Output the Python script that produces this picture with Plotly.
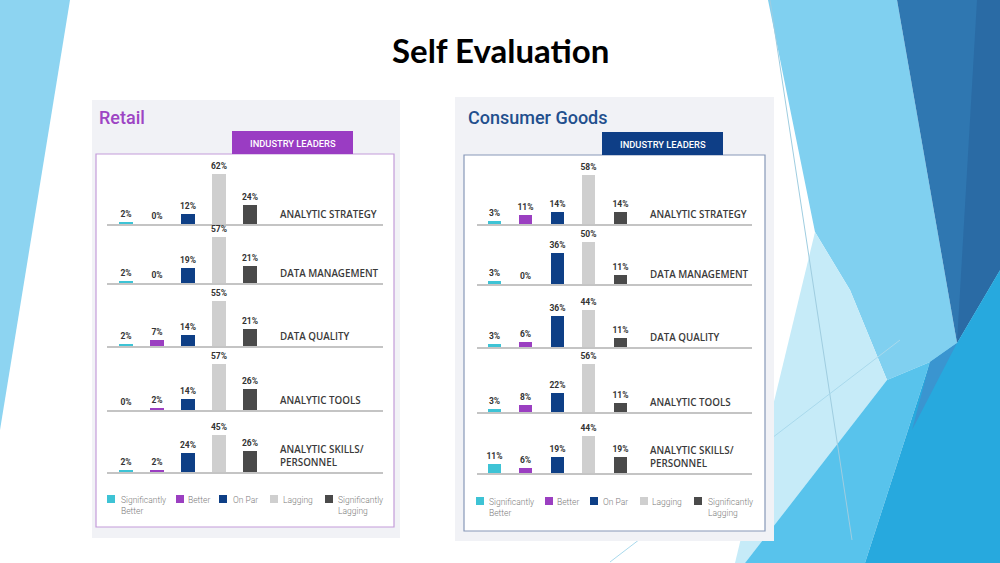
import plotly.graph_objects as go

# ---------------- data ----------------
series = ["Significantly Better", "Better", "On Par", "Lagging", "Significantly Lagging"]
legend_labels = ["Significantly<br>Better", "Better", "On Par", "Lagging", "Significantly<br>Lagging"]
categories = ["ANALYTIC STRATEGY", "DATA MANAGEMENT", "DATA QUALITY", "ANALYTIC TOOLS",
              "ANALYTIC SKILLS/<br>PERSONNEL"]

retail_sig_better = [2, 2, 2, 0, 2]
retail_better = [0, 0, 7, 2, 2]
retail_on_par = [12, 19, 14, 14, 24]
retail_lagging = [62, 57, 55, 57, 45]
retail_sig_lagging = [24, 21, 21, 26, 26]

cg_sig_better = [3, 3, 3, 3, 11]
cg_better = [11, 0, 6, 8, 6]
cg_on_par = [14, 36, 36, 22, 19]
cg_lagging = [58, 50, 44, 56, 44]
cg_sig_lagging = [14, 11, 11, 11, 19]

series_colors = ["#3ec3d5", "#9b3fc1", "#0e3f86", "#cfcfcf", "#4a4a4a"]

# ---------------- layout helpers ----------------
W, H = 1000, 563
def px(x):
    return x / W
def py(y):
    return 1 - y / H

panels = [
    dict(title="Retail", title_color="#9d45c4", tab_color="#9a3cc3", border="#c49cd9",
         values=[retail_sig_better, retail_better, retail_on_par, retail_lagging, retail_sig_lagging],
         outer=(92, 100, 400, 538), inner=(96, 154, 394, 527), tab=(232, 131, 353, 154),
         title_pos=(97, 117), bar0=126, step=31, bar_w=14, line=(107, 383), label_x=278,
         baselines=[224, 283, 346, 410, 472], yrange=69,
         leg_sq=[107, 176, 219, 270, 325], leg_tx=[119, 186, 231, 281, 336], leg_y=499),
    dict(title="Consumer Goods", title_color="#224f8d", tab_color="#0e3e86", border="#8798b8",
         values=[cg_sig_better, cg_better, cg_on_par, cg_lagging, cg_sig_lagging],
         outer=(455, 97, 774, 541), inner=(464, 155, 765, 531), tab=(602, 132, 723, 155),
         title_pos=(466, 117), bar0=494, step=31.6, bar_w=13, line=(477, 752), label_x=648,
         baselines=[224, 284, 347, 412, 473], yrange=66,
         leg_sq=[476, 545, 590, 640, 694], leg_tx=[487, 555, 601, 650, 706], leg_y=501),
]

fig = go.Figure()
shapes = []
annotations = []

# ---------------- slide background decoration ----------------
def poly(pts, color, opacity=1.0):
    path = "M " + " L ".join(f"{px(x):.4f},{py(y):.4f}" for x, y in pts) + " Z"
    return dict(type="path", path=path, xref="paper", yref="paper", fillcolor=color,
                line=dict(width=0), layer="below", opacity=opacity)

shapes += [
    poly([(0, 0), (70, 0), (0, 430)], "#8dd4f1"),
    poly([(768, 0), (897, 0), (957, 343), (930, 362), (887, 380), (850, 290), (815, 232)], "#80d0f0"),
    poly([(815, 232), (850, 290), (887, 380), (745, 563), (735, 563)], "#c6ebf8"),
    poly([(897, 0), (1000, 0), (1000, 270), (957, 343)], "#2f77b1"),
    poly([(977, 0), (1000, 0), (1000, 270), (957, 343)], "#2a6ba5"),
    poly([(887, 380), (930, 362), (865, 563), (745, 563)], "#58c3ec"),
    poly([(1000, 270), (957, 343), (930, 362), (865, 563), (1000, 563)], "#27a9de"),
    poly([(957, 343), (930, 362), (912, 430)], "#3a95d0"),
    dict(type="line", xref="paper", yref="paper", x0=px(770), y0=py(0), x1=px(852), y1=py(540),
         line=dict(color="#9fcde0", width=1), layer="below"),
    dict(type="line", xref="paper", yref="paper", x0=px(610), y0=py(562), x1=px(900), y1=py(340),
         line=dict(color="#a9d9ec", width=1), layer="below"),
]

# ---------------- slide title ----------------
annotations.append(dict(text="<b>Self Evaluation</b>", x=px(500), y=py(50), xref="paper", yref="paper",
                        showarrow=False, xanchor="center", yanchor="middle",
                        font=dict(family="Lato", size=33, color="#000000")))

# ---------------- panels ----------------
n = 0
for p in panels:
    ox0, oy0, ox1, oy1 = p["outer"]
    ix0, iy0, ix1, iy1 = p["inner"]
    tx0, ty0, tx1, ty1 = p["tab"]
    shapes.append(dict(type="rect", xref="paper", yref="paper", x0=px(ox0), y0=py(oy1), x1=px(ox1), y1=py(oy0),
                       fillcolor="#f1f2f6", line=dict(width=0), layer="below"))
    shapes.append(dict(type="rect", xref="paper", yref="paper", x0=px(ix0), y0=py(iy1), x1=px(ix1), y1=py(iy0),
                       fillcolor="#ffffff", line=dict(color=p["border"], width=1.2), layer="below"))
    shapes.append(dict(type="rect", xref="paper", yref="paper", x0=px(tx0), y0=py(ty1), x1=px(tx1), y1=py(ty0),
                       fillcolor=p["tab_color"], line=dict(width=0), layer="below"))
    annotations.append(dict(text="INDUSTRY LEADERS", x=px((tx0 + tx1) / 2), y=py((ty0 + ty1) / 2 + 0.5),
                            xref="paper", yref="paper", showarrow=False, xanchor="center", yanchor="middle",
                            font=dict(family="Roboto", size=9.3, color="#ffffff", weight=500)))
    annotations.append(dict(text=p["title"], x=px(p["title_pos"][0]), y=py(p["title_pos"][1]),
                            xref="paper", yref="paper", showarrow=False, xanchor="left", yanchor="middle",
                            font=dict(family="Roboto", size=18, color=p["title_color"], weight=500)))

    lx0, lx1 = p["line"]
    xr0 = (lx0 - p["bar0"]) / p["step"]
    xr1 = (lx1 - p["bar0"]) / p["step"]
    dom_h = 56
    for r, cat in enumerate(categories):
        n += 1
        sx = "" if n == 1 else str(n)
        row_vals = [p["values"][s][r] for s in range(len(series))]
        fig.add_trace(go.Bar(
            x=series, y=row_vals, xaxis="x" + sx, yaxis="y" + sx,
            marker=dict(color=series_colors, line=dict(width=0)),
            width=p["bar_w"] / p["step"],
            text=[f"{v}%" for v in row_vals], textposition="outside", textangle=0,
            constraintext="none", cliponaxis=False,
            textfont=dict(family="Roboto", size=8.5, color="#333333", weight="bold"),
            hoverinfo="skip", showlegend=False,
        ))
        yb = p["baselines"][r]
        fig.update_layout(**{
            "xaxis" + sx: dict(domain=[px(lx0), px(lx1)], range=[xr0, xr1], anchor="y" + sx,
                               showticklabels=False, showgrid=False, zeroline=False, ticks="",
                               showline=True, linecolor="#c4c4c4", linewidth=1.6,
                               categoryorder="array", categoryarray=series, fixedrange=True),
            "yaxis" + sx: dict(domain=[py(yb), py(yb - dom_h)], range=[0, p["yrange"]], anchor="x" + sx,
                               visible=False, fixedrange=True),
        })
        annotations.append(dict(text=cat, xref="x" + sx, yref="y" + sx,
                                x=(p["label_x"] - p["bar0"]) / p["step"], y=0,
                                xanchor="left", yanchor="bottom", yshift=1, align="left", showarrow=False,
                                font=dict(family="Open Sans", size=9.8, color="#3a3a3a", weight=600)))

    # legend (drawn from the series names / colours)
    for i, lab in enumerate(legend_labels):
        sq = p["leg_sq"][i]
        shapes.append(dict(type="rect", xref="paper", yref="paper",
                           x0=px(sq), x1=px(sq + 8), y0=py(p["leg_y"] + 4), y1=py(p["leg_y"] - 4),
                           fillcolor=series_colors[i], line=dict(width=0), layer="above"))
        annotations.append(dict(text=lab, x=px(p["leg_tx"][i]), y=py(p["leg_y"] - 6),
                                xref="paper", yref="paper", showarrow=False, xanchor="left", yanchor="top",
                                align="left",
                                font=dict(family="Roboto", size=8.5, color="#7d7d7d", weight=300)))

fig.update_layout(
    width=W, height=H, margin=dict(l=0, r=0, t=0, b=0),
    paper_bgcolor="#ffffff", plot_bgcolor="rgba(0,0,0,0)",
    showlegend=False, shapes=shapes, annotations=annotations, bargap=0,
)

fig.write_html("out.html")
